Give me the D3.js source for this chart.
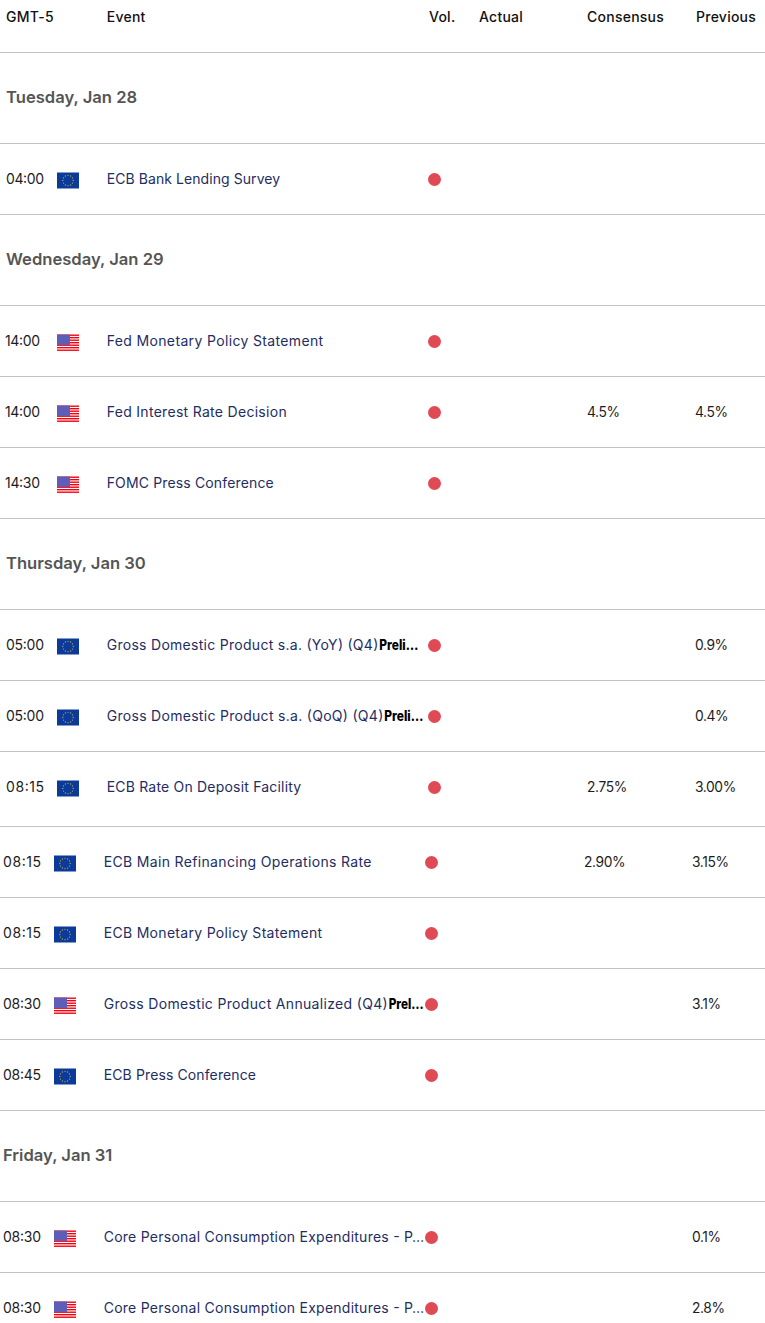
<!DOCTYPE html>
<html lang="en">
<head>
  <meta charset="utf-8">
  <title>Economic calendar</title>
  <script src="https://cdn.jsdelivr.net/npm/d3@7/dist/d3.min.js"></script>
  <style>
    html, body { margin: 0; padding: 0; background: #fff; }
    svg { display: block; }
    text { font-family: Inter, "Open Sans", sans-serif; font-size: 14px; dominant-baseline: central; }
    .head { fill: #111; font-weight: 500; letter-spacing: 0.25px; }
    .day { fill: #555; font-size: 16.6px; font-weight: 600; }
    .time { fill: #1c1c1c; }
    .event { fill: #1e2d62; }
    .bold { fill: #000; font-size: 14px; font-weight: 800; }
    .num { fill: #1c1c1c; font-size: 13.8px; letter-spacing: -0.4px; }
    .rule { stroke: #bfc3c5; stroke-width: 1; }
  </style>
</head>
<body>
  <script>
    // table content
    var headers = ["GMT-5", "Event", "Vol.", "Actual", "Consensus", "Previous"];
    var rowKinds = ["day","event","day","event","event","event","day","event","event","event","event","event","event","event","day","event","event"];
    var days = ["Tuesday, Jan 28", "Wednesday, Jan 29", "Thursday, Jan 30", "Friday, Jan 31"];
    var times = ["04:00","14:00","14:00","14:30","05:00","05:00","08:15","08:15","08:15","08:30","08:45","08:30","08:30"];
    var flags = ["EU","US","US","US","EU","EU","EU","EU","EU","US","EU","US","US"];
    var events = [
      "ECB Bank Lending Survey",
      "Fed Monetary Policy Statement",
      "Fed Interest Rate Decision",
      "FOMC Press Conference",
      "Gross Domestic Product s.a. (YoY) (Q4)",
      "Gross Domestic Product s.a. (QoQ) (Q4)",
      "ECB Rate On Deposit Facility",
      "ECB Main Refinancing Operations Rate",
      "ECB Monetary Policy Statement",
      "Gross Domestic Product Annualized (Q4)",
      "ECB Press Conference",
      "Core Personal Consumption Expenditures - P…",
      "Core Personal Consumption Expenditures - P…"
    ];
    var boldTails = ["","","","","Preli…","Preli…","","","","Prel…","","",""];
    var consensus = ["","","4.5%","","","","2.75%","2.90%","","","","",""];
    var previous = ["","","4.5%","","0.9%","0.4%","3.00%","3.15%","","3.1%","","0.1%","2.8%"];

    // layout
    var width = 765, height = 1323;
    var headerHeight = 52.5;
    var dayHeight = 91, eventHeight = 71, tallEventHeight = 75;
    var tallEvent = 6;  // ECB Rate On Deposit Facility row is taller
    var shiftFrom = 7;  // rows from here on sit 3px to the left in the source table

    // the source font is wider than Inter, so each event label is stretched to its measured width
    var eventWidths = [173.5, 216.5, 180, 167, 271.6, 276.6, 194.5, 267.8, 218.5, 284, 152.3, 320.3, 320.3];

    var col = d3.scaleOrdinal()
      .domain(headers.concat(["flag"]))
      .range([6, 106.7, 429, 479, 587, 696, 57]);
    var valueX = d3.scaleOrdinal().domain(["Consensus", "Previous"]).range([587, 695]);

    var svg = d3.select("body").append("svg")
      .attr("width", width)
      .attr("height", height);

    var defs = svg.append("defs");
    var checker = defs.append("pattern")
      .attr("id", "canton")
      .attr("width", 2).attr("height", 2)
      .attr("patternUnits", "userSpaceOnUse");
    checker.append("rect").attr("width", 2).attr("height", 2).attr("fill", "#14148f");
    checker.append("rect").attr("width", 1).attr("height", 1).attr("fill", "#a9a9e0");
    checker.append("rect").attr("x", 1).attr("y", 1).attr("width", 1).attr("height", 1).attr("fill", "#a9a9e0");

    // walk the rows to find each top edge
    var rows = [], y = headerHeight, dayI = 0, evI = 0;
    rowKinds.forEach(function(kind) {
      var h = kind === "day" ? dayHeight : (evI === tallEvent ? tallEventHeight : eventHeight);
      if (kind === "day") rows.push({kind: kind, top: y, h: h, label: days[dayI++]});
      else rows.push({kind: kind, top: y, h: h, i: evI++});
      y += h;
    });

    svg.selectAll("text.head")
      .data(headers)
      .enter().append("text")
      .attr("class", "head")
      .attr("x", function(d) { return col(d); })
      .attr("y", 16.5)
      .text(function(d) { return d; });

    svg.selectAll("line.rule")
      .data([headerHeight].concat(rows.map(function(r) { return r.top + r.h; })).filter(function(v) { return v < height; }))
      .enter().append("line")
      .attr("class", "rule")
      .attr("x1", 0).attr("x2", width)
      .attr("y1", function(d) { return d; })
      .attr("y2", function(d) { return d; });

    svg.selectAll("text.day")
      .data(rows.filter(function(r) { return r.kind === "day"; }))
      .enter().append("text")
      .attr("class", "day")
      .attr("x", function(d) { return d.label === days[3] ? 3 : 6; })
      .attr("y", function(d) { return d.top + 44.5; })
      .text(function(d) { return d.label; });

    var row = svg.selectAll("g.row")
      .data(rows.filter(function(r) { return r.kind === "event"; }))
      .enter().append("g")
      .attr("class", "row")
      .attr("transform", function(d) {
        return "translate(" + (d.i >= shiftFrom ? -3 : 0) + "," + (d.top + 36) + ")";
      });

    // the source font has a narrow "1" at the start of 14:xx
    row.append("text").attr("class", "time")
      .attr("x", function(d) { return times[d.i][0] === "1" ? col("GMT-5") - 1 : col("GMT-5"); })
      .attr("y", -1)
      .attr("textLength", function(d) { return times[d.i][0] === "1" ? 35 : 38; })
      .attr("lengthAdjust", "spacing")
      .text(function(d) { return times[d.i]; });

    row.append("text").attr("class", "event")
      .attr("x", col("Event"))
      .attr("y", -1)
      .attr("textLength", function(d) { return eventWidths[d.i]; })
      .attr("lengthAdjust", "spacing")
      .text(function(d) { return events[d.i]; });

    row.filter(function(d) { return boldTails[d.i] !== ""; })
      .append("text").attr("class", "bold")
      .attr("x", function(d) { return col("Event") + eventWidths[d.i] + 1; })
      .attr("y", -1)
      .attr("textLength", function(d) { return boldTails[d.i] === "Prel…" ? 35 : 39; })
      .attr("lengthAdjust", "spacingAndGlyphs")
      .text(function(d) { return boldTails[d.i]; });

    row.append("circle")
      .attr("cx", 434.5).attr("r", 6.5)
      .attr("fill", "#e04a55");

    row.append("text").attr("class", "num")
      .attr("x", valueX("Consensus"))
      .attr("y", -1)
      .text(function(d) { return consensus[d.i]; });
    row.append("text").attr("class", "num")
      .attr("x", valueX("Previous"))
      .attr("y", -1)
      .text(function(d) { return previous[d.i]; });

    // flags
    var flag = row.append("g")
      .attr("transform", "translate(" + col("flag") + ",-7)");

    var eu = flag.filter(function(d) { return flags[d.i] === "EU"; });
    eu.append("rect").attr("width", 22).attr("height", 16).attr("fill", "#0b3a9a");
    eu.selectAll("circle")
      .data(d3.range(12))
      .enter().append("circle")
      .attr("cx", function(k) { return 11 + 5.2 * Math.cos(k * Math.PI / 6); })
      .attr("cy", function(k) { return 8 + 5.2 * Math.sin(k * Math.PI / 6); })
      .attr("r", 0.65)
      .attr("fill", "#b5a545");

    var us = flag.filter(function(d) { return flags[d.i] === "US"; });
    us.append("rect").attr("width", 22).attr("height", 16).attr("fill", "#fff");
    us.selectAll("rect.stripe")
      .data(d3.range(7))
      .enter().append("rect")
      .attr("class", "stripe")
      .attr("y", function(k) { return k * 15 / 6; })
      .attr("width", 22)
      .attr("height", 1.4)
      .attr("fill", "#f5000f");
    us.append("rect").attr("width", 13).attr("height", 10.5).attr("fill", "url(#canton)");
  </script>
</body>
</html>
